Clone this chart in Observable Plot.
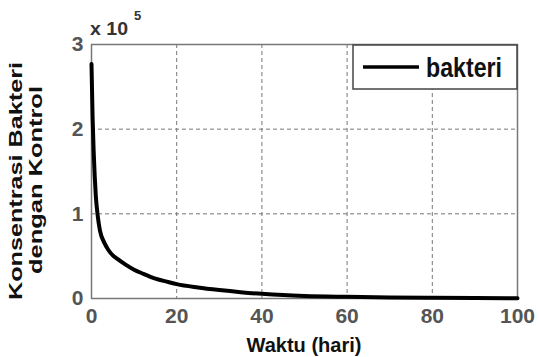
<!DOCTYPE html>
<html><head><meta charset="utf-8">
<script src="https://cdn.jsdelivr.net/npm/d3@7"></script>
<script src="https://cdn.jsdelivr.net/npm/@observablehq/plot@0.6"></script>
<style>body{margin:0;background:#fff}</style>
</head><body><div id="chart"></div>
<script>
const waktu = [0, 0.25, 0.5, 0.75, 1, 1.5, 2, 3, 4, 5, 6, 8, 10, 12, 15, 18, 20, 25, 30, 35, 40, 45, 50, 60, 70, 80, 90, 100];
const bakteri = [277000, 215000, 175000, 145000, 122000, 96000, 80000, 66000, 57000, 51000, 47000, 40000, 34000, 29500, 23500, 19500, 17000, 13000, 10000, 7500, 5500, 4000, 3000, 2000, 1300, 900, 600, 400];
const xTicks = [0, 20, 40, 60, 80, 100];
const yTicks = [0, 100000, 200000, 300000];
const seriesName = "bakteri";
const xLabel = "Waktu (hari)";
const yLabel = ["Konsentrasi Bakteri", "dengan Kontrol"];
const expLabel = ["x 10", "5"];

const data = waktu.map((t, i) => ({t, v: bakteri[i]}));
const W = 539, H = 357, mL = 91, mR = 22, mT = 44, mB = 59;
const font = "'Liberation Sans', Arial, sans-serif";

const chart = Plot.plot({
  width: W, height: H,
  marginLeft: mL, marginRight: mR, marginTop: mT, marginBottom: mB,
  style: {fontFamily: font, background: "#fff", overflow: "visible"},
  x: {domain: [0, 100]},
  y: {domain: [0, 300000]},
  marks: [
    Plot.gridX(xTicks.slice(1, -1), {stroke: "#777", strokeOpacity: 1, strokeDasharray: "4,3", strokeWidth: 1}),
    Plot.gridY(yTicks.slice(1, -1), {stroke: "#777", strokeOpacity: 1, strokeDasharray: "4,3", strokeWidth: 1}),
    Plot.frame({stroke: "#777", strokeWidth: 1.5}),
    Plot.axisX(xTicks, {tickSize: 0, tickPadding: 10, fontSize: 21, fontWeight: "bold", fill: "#555", label: null}),
    Plot.axisY(yTicks, {tickSize: 0, tickPadding: 8, fontSize: 21, fontWeight: "bold", fill: "#555", label: null, tickFormat: d => d / 100000}),
    Plot.line(data, {x: "t", y: "v", stroke: "#000", strokeWidth: 4, curve: "monotone-x"})
  ]
});
document.getElementById("chart").appendChild(chart);

const svg = d3.select(chart);
const g = svg.append("g").attr("font-family", font).attr("font-weight", "bold").attr("text-anchor", "start");

// exponent label
g.append("text").attr("x", 90).attr("y", 35).attr("font-size", 19).attr("fill", "#333").attr("text-anchor", "start")
  .attr("textLength", 38).attr("lengthAdjust", "spacingAndGlyphs").text(expLabel[0]);
g.append("text").attr("x", 134).attr("y", 20).attr("font-size", 13).attr("fill", "#333").attr("text-anchor", "start").text(expLabel[1]);

// legend
const lx1 = W - mR, lx0 = lx1 - 164, ly0 = mT + 1, ly1 = ly0 + 44;
g.append("rect").attr("x", lx0).attr("y", ly0).attr("width", lx1 - lx0).attr("height", ly1 - ly0)
  .attr("fill", "#fff").attr("stroke", "#444").attr("stroke-width", 1.5);
g.append("line").attr("x1", lx0 + 10).attr("x2", lx0 + 66).attr("y1", (ly0 + ly1) / 2).attr("y2", (ly0 + ly1) / 2)
  .attr("stroke", "#000").attr("stroke-width", 3.5);
g.append("text").attr("x", lx0 + 73).attr("y", ly0 + 32).attr("font-size", 28).attr("fill", "#111").attr("text-anchor", "start")
  .attr("textLength", 76).attr("lengthAdjust", "spacingAndGlyphs").text(seriesName);

// x label
g.append("text").attr("x", (mL + W - mR) / 2).attr("y", 352).attr("text-anchor", "middle")
  .attr("font-size", 21).attr("fill", "#111")
  .attr("textLength", 115).attr("lengthAdjust", "spacingAndGlyphs").text(xLabel);

// y label
g.append("text").attr("transform", "translate(22,181) rotate(-90)").attr("text-anchor", "middle")
  .attr("font-size", 19).attr("fill", "#111")
  .attr("textLength", 238).attr("lengthAdjust", "spacingAndGlyphs").text(yLabel[0]);
g.append("text").attr("transform", "translate(42,180) rotate(-90)").attr("text-anchor", "middle")
  .attr("font-size", 19).attr("fill", "#111")
  .attr("textLength", 188).attr("lengthAdjust", "spacingAndGlyphs").text(yLabel[1]);
</script>
</body></html>
